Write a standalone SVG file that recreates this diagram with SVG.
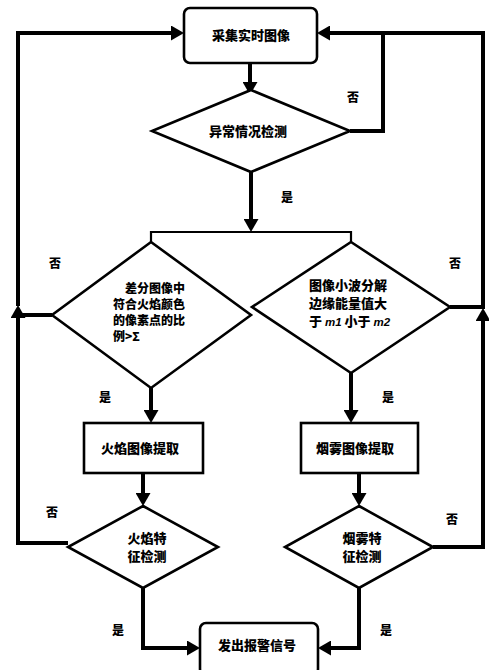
<svg xmlns="http://www.w3.org/2000/svg" width="489" height="670" viewBox="0 0 489 670">
<style>
.n{fill:#fff;stroke:#000;stroke-width:2.6}
.c{fill:none;stroke:#000;stroke-width:4;stroke-linejoin:miter}
.t{font-family:"Noto Sans CJK SC","Noto Sans",sans-serif;font-weight:900;font-size:13px;fill:#000}
.s{font-size:12px}
.m{text-anchor:middle}
.i{font-family:"Liberation Sans",sans-serif;font-style:italic;font-weight:bold;font-size:11.5px}
.l{font-family:"Noto Sans CJK SC","Noto Sans",sans-serif;font-weight:900;font-size:12px;fill:#000;text-anchor:middle}
</style>
<defs>
<marker id="a" markerUnits="userSpaceOnUse" markerWidth="14" markerHeight="15" refX="1" refY="7.5" orient="auto" viewBox="0 0 14 15">
<path d="M0,0 L13,7.5 L0,15 z" fill="#000"/>
</marker>
</defs>
<rect width="489" height="670" fill="#fff"/>
<g id="connectors">
<path class="c" d="M250,63 V83" marker-end="url(#a)"/>
<path class="c" d="M251,172 V220" marker-end="url(#a)"/>
<path fill="none" stroke="#000" stroke-width="2.2" d="M151,242 V232 H351 V242"/>
<path class="c" d="M151,388 V411" marker-end="url(#a)"/>
<path class="c" d="M351,373 V411" marker-end="url(#a)"/>
<path class="c" d="M143,473 V494" marker-end="url(#a)"/>
<path class="c" d="M359,473 V494" marker-end="url(#a)"/>
<path class="c" d="M143,588 V648 H188" marker-end="url(#a)"/>
<path class="c" d="M359,588 V648 H330" marker-end="url(#a)"/>
<path class="c" d="M68,543 H18 V317" marker-end="url(#a)"/>
<path class="c" d="M18,306 V33 H172" marker-end="url(#a)"/>
<path class="c" d="M52,315 H18"/>
<path class="c" d="M433,547 H483 V320" marker-end="url(#a)"/>
<path class="c" d="M483,309 V33 H329" marker-end="url(#a)"/>
<path class="c" d="M450,307 H483"/>
<path class="c" d="M350,131 H383 V33"/>
</g>
<g id="labels">
<text class="l" x="287" y="202">是</text>
<text class="l" x="353" y="102">否</text>
<text class="l" x="55" y="268">否</text>
<text class="l" x="455" y="268">否</text>
<text class="l" x="105" y="402">是</text>
<text class="l" x="388" y="402">是</text>
<text class="l" x="52" y="517">否</text>
<text class="l" x="452" y="524">否</text>
<text class="l" x="118" y="635">是</text>
<text class="l" x="386" y="635">是</text>
</g>
<g id="start">
<rect class="n" x="184" y="8" width="133" height="55" rx="6"/>
<text class="t m" x="251" y="40">采集实时图像</text>
</g>
<g id="detect">
<polygon class="n" points="251,90 350,131 251,172 152,131"/>
<text class="t m" x="248" y="136">异常情况检测</text>
</g>
<g id="ratio">
<polygon class="n" points="151,242 251,315 151,388 52,315"/>
<text class="t s" x="125" y="293">差分图像中</text>
<text class="t s" x="113" y="309">符合火焰颜色</text>
<text class="t s" x="113" y="325">的像素点的比</text>
<text class="t s" x="113" y="341">例&gt;Σ</text>
</g>
<g id="wavelet">
<polygon class="n" points="351,242 450,307 351,373 252,307"/>
<text class="t" x="309" y="290" font-size="12.5">图像小波分解</text>
<text class="t" x="309" y="308" font-size="12.5">边缘能量值大</text>
<text class="t" x="309" y="326" font-size="12.5">于 <tspan class="i">m1</tspan> 小于 <tspan class="i">m2</tspan></text>
</g>
<g id="fireExtract">
<rect class="n" x="84" y="423" width="119" height="50"/>
<text class="t m" x="140" y="453">火焰图像提取</text>
</g>
<g id="smokeExtract">
<rect class="n" x="301" y="423" width="117" height="50"/>
<text class="t m" x="355" y="453">烟雾图像提取</text>
</g>
<g id="fireFeature">
<polygon class="n" points="143,506 218,547 143,588 68,547"/>
<text class="t m" x="147" y="543">火焰特</text>
<text class="t m" x="147" y="561">征检测</text>
</g>
<g id="smokeFeature">
<polygon class="n" points="359,506 433,547 359,588 285,547"/>
<text class="t m" x="362" y="543">烟雾特</text>
<text class="t m" x="362" y="561">征检测</text>
</g>
<g id="alarm">
<rect class="n" x="200" y="623" width="118" height="52" rx="6"/>
<text class="t m" x="257" y="650">发出报警信号</text>
</g>
</svg>
